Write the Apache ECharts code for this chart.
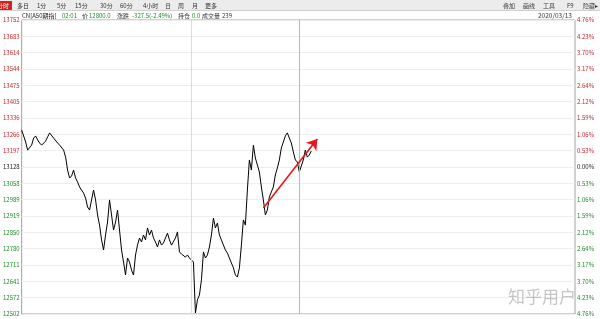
<!DOCTYPE html>
<html><head><meta charset="utf-8">
<script src="https://cdn.jsdelivr.net/npm/echarts@6/dist/echarts.min.js"></script>
<style>html,body{margin:0;padding:0;background:#fff}#c{width:600px;height:319px}</style>
</head><body><div id="c"></div>
<script>
const slotCount = 278;
const slots = Array.from({length: slotCount}, (_, i) => String(i));
const prices = [
13284,13259,13233,13199,13191,13220,13250,13259,13242,13229,13220,13212,13237,13255,13272,13280,13250,13242,13229,13220,13212,13199,13169,13114,13080,13089,13114,13080,13063,13042,13029,13016,12995,12957,
12944,12987,13029,12987,12923,12880,12817,12774,12838,12893,12987,12923,12859,12893,12944,12859,12774,12723,12668,12740,12723,12689,12668,12753,12795,12825,12808,12838,12817,12868,12838,12859,12825,12808,12787,12817,12795,12804,12825,12846,12817,12795,12787,12825,12851,12766,12757,12753,12744,12753,12740,12732,12723,12506,12562,12583,12647,12766,12740,12753,12787,12838,12910,12868,12889,12838,12817,12795,12774,12761,12740,12719,12698,12668,12659,12698,12795,12902,12880,13029,13157,13114,13220,13165,13157,13106,13042,12987,12923,12944,12999,13021,13042,13093,13123,13157,13208,13233,13259,13272,13250,13229,13191,13157,13148,13106,13114,13157,13199,13169,13178,13195
];
const priceTicks = ['12502','12572','12641','12711','12780','12850','12919','12989','13058','13128','13197','13266','13336','13405','13475','13544','13614','13683','13752'];
const pctTicks = ['4.76%','4.23%','3.70%','3.17%','2.64%','2.12%','1.59%','1.06%','0.53%','0.00%','0.53%','1.06%','1.59%','2.12%','2.64%','3.17%','3.70%','4.23%','4.76%'];
const priceMin = 12502, priceMax = 13752;
const arrowFrom = ['121', 12953];
const arrowTo = ['148', 13246];
const sessionLines = ['85', '139'];

const FONT = '"Noto Sans CJK SC", "Noto Sans", sans-serif';
const RED = '#c0272d', GREEN = '#1d8a2a', DARK = '#333';
const labelColor = (v, i) => i < 9 ? GREEN : (i === 9 ? '#222' : RED);

const chart = echarts.init(document.getElementById('c'), null, {renderer: 'canvas'});

function txt(x, y, s, color, size, align) {
  return {type: 'text', x: x, y: y, z: 10,
    style: {text: s, fill: color || DARK, font: (size || 6) + 'px ' + FONT, textAlign: align || 'left', textVerticalAlign: 'middle'}};
}
const graphics = [
  {type: 'rect', shape: {x: 0, y: 0, width: 600, height: 10}, style: {fill: '#ececec'}, z: 5},
  {type: 'line', shape: {x1: 0, y1: 10.5, x2: 600, y2: 10.5}, style: {stroke: '#d0d0d0', lineWidth: 1}, z: 6},
  {type: 'rect', shape: {x: 0, y: 1, width: 12, height: 9}, style: {fill: '#d32222'}, z: 7},
  txt(-3, 5.5, '分时', '#fff', 6),
  txt(17, 5.5, '多日'), txt(37, 5.5, '1分'), txt(57, 5.5, '5分'), txt(75, 5.5, '15分'),
  txt(100, 5.5, '30分'), txt(120, 5.5, '60分'), txt(143, 5.5, '4小时'), txt(165, 5.5, '日'),
  txt(178, 5.5, '周'), txt(192, 5.5, '月'), txt(205, 5.5, '更多'),
  txt(503, 5.5, '叠加'), txt(523, 5.5, '画线'), txt(543, 5.5, '工具'), txt(567, 5.5, 'F9'), txt(583, 5.5, '隐藏▸'),
  txt(22, 15.5, 'CN[A50期指]', '#222', 6), txt(62, 15.5, '02:01', GREEN, 6), txt(82, 15.5, '价', DARK, 6),
  txt(89, 15.5, '12800.0', GREEN, 6), txt(117, 15.5, '涨跌', DARK, 6), txt(132, 15.5, '-327.5(-2.49%)', GREEN, 6),
  txt(178, 15.5, '持仓', DARK, 6), txt(192, 15.5, '0.0', GREEN, 6), txt(202, 15.5, '成交量', DARK, 6),
  txt(222, 15.5, '239', DARK, 6), txt(538, 15.5, '2020/03/13', DARK, 6.5),
  {type: 'text', x: 508, y: 297, z: 20, style: {text: '知乎用户', fill: 'rgba(150,150,150,0.55)', font: '17px ' + FONT, textVerticalAlign: 'middle'}}
];

const catAxis = (data, pos) => ({
  type: 'category', data: data, position: pos, boundaryGap: false, gridIndex: 0,
  axisLine: {show: false}, axisTick: {show: false},
  axisLabel: {interval: 0, fontSize: 6, fontFamily: FONT, margin: 2, color: labelColor},
  splitLine: {show: pos === 'left', interval: 0, lineStyle: {color: '#eeeeee', width: 1}}
});

chart.setOption({
  animation: false,
  backgroundColor: '#fff',
  grid: {left: 21, right: 25, top: 20, bottom: 5, show: true, borderColor: '#a0a0a0', borderWidth: 1},
  xAxis: {type: 'category', data: slots, boundaryGap: false, axisLine: {show: false}, axisTick: {show: false}, axisLabel: {show: false}, splitLine: {show: false}},
  yAxis: [
    {type: 'value', min: priceMin, max: priceMax, show: false, splitLine: {show: false}},
    catAxis(priceTicks, 'left'),
    catAxis(pctTicks, 'right')
  ],
  series: [
    {type: 'line', data: [], yAxisIndex: 0, silent: true,
      markLine: {silent: true, symbol: 'none', label: {show: false},
        data: [
          {xAxis: sessionLines[0], lineStyle: {color: '#dcdcdc', width: 1, type: 'solid'}},
          {xAxis: sessionLines[1], lineStyle: {color: '#b8b8b8', width: 1, type: 'solid'}}
        ]}},
    {type: 'line', data: prices, yAxisIndex: 0, showSymbol: false, symbol: 'none', silent: true,
      lineStyle: {color: '#000', width: 1}},
    {type: 'line', data: [], yAxisIndex: 0, silent: true,
      markLine: {silent: true, label: {show: false}, symbol: ['none', 'arrow'], symbolSize: 10,
        lineStyle: {color: '#e5161c', width: 1.6, type: 'solid'},
        data: [[{coord: arrowFrom}, {coord: arrowTo}]]}}
  ],
  graphic: graphics
});
</script></body></html>
